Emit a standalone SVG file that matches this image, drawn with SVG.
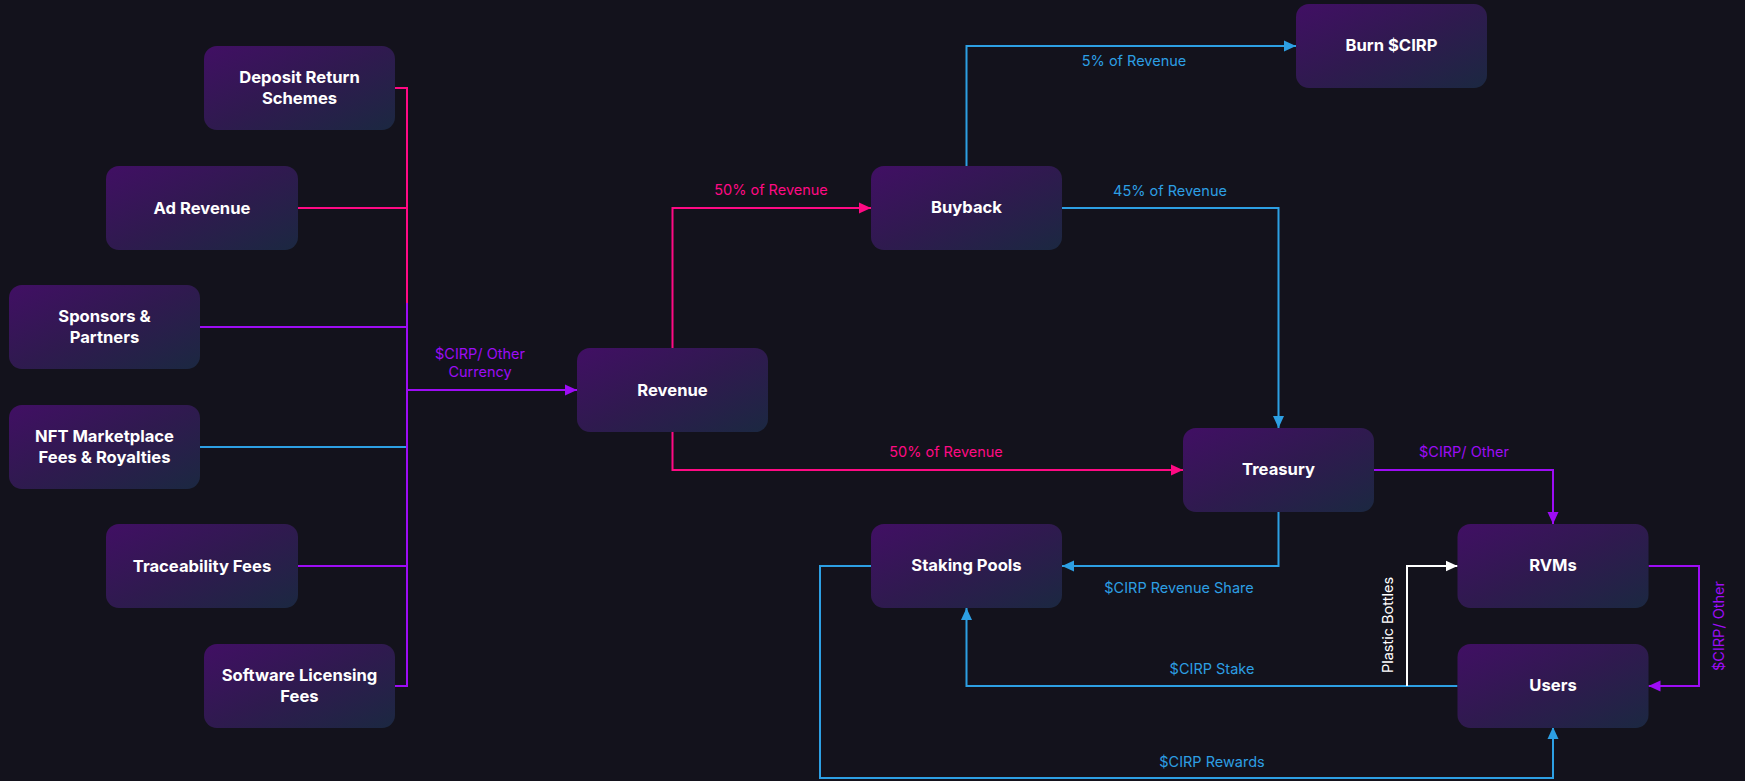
<svg xmlns="http://www.w3.org/2000/svg" width="1745" height="781" viewBox="0 0 1745 781">
<defs>
<linearGradient id="boxg" x1="0" y1="0" x2="1" y2="1">
<stop offset="0" stop-color="#410f64"/>
<stop offset="0.5" stop-color="#2f1a4f"/>
<stop offset="1" stop-color="#1b2841"/>
</linearGradient>
<marker id="ab" markerUnits="userSpaceOnUse" markerWidth="12" markerHeight="12" viewBox="0 0 12 12" refX="12" refY="6" orient="auto"><path d="M0,0.5 L12,6 L0,11.5 Z" fill="#2d9fe3"/></marker>
<marker id="ap" markerUnits="userSpaceOnUse" markerWidth="12" markerHeight="12" viewBox="0 0 12 12" refX="12" refY="6" orient="auto"><path d="M0,0.5 L12,6 L0,11.5 Z" fill="#ff0a84"/></marker>
<marker id="av" markerUnits="userSpaceOnUse" markerWidth="12" markerHeight="12" viewBox="0 0 12 12" refX="12" refY="6" orient="auto"><path d="M0,0.5 L12,6 L0,11.5 Z" fill="#9d0cf5"/></marker>
<marker id="aw" markerUnits="userSpaceOnUse" markerWidth="12" markerHeight="12" viewBox="0 0 12 12" refX="12" refY="6" orient="auto"><path d="M0,0.5 L12,6 L0,11.5 Z" fill="#ffffff"/></marker>
</defs>
<style>
.box{fill:url(#boxg);}
.nt{font-family:Inter,"Liberation Sans",sans-serif;font-weight:700;font-size:16.6px;fill:#ffffff;text-anchor:middle;}
.el{font-family:Inter,"Liberation Sans",sans-serif;font-weight:400;font-size:14.5px;text-anchor:middle;}
.c{fill:none;stroke-width:2;}
.pk{stroke:#ff0a84;}
.pu{stroke:#9d0cf5;}
.bl{stroke:#2d9fe3;}
.wh{stroke:#ffffff;}
.tpk{fill:#ff0a84;}
.tpu{fill:#9d0cf5;}
.tbl{fill:#2d9fe3;}
.twh{fill:#ffffff;}
</style>
<rect width="1745" height="781" fill="#13121c"/>
<g id="connectors">
<path class="c pk" d="M395,88 H407 V303"/>
<path class="c pk" d="M298,208 H407"/>
<path class="c pu" d="M200,327 H407"/>
<path class="c bl" d="M200,447 H407"/>
<path class="c pu" d="M298,566 H407"/>
<path class="c pu" d="M395,686 H407 V303"/>
<path class="c pu" d="M407,390 H577" marker-end="url(#av)"/>
<text class="el tpu" x="480" y="359">$CIRP/ Other</text>
<text class="el tpu" x="480" y="377">Currency</text>
<path class="c pk" d="M672.5,348 V208 H871" marker-end="url(#ap)"/>
<text class="el tpk" x="771" y="195">50% of Revenue</text>
<path class="c pk" d="M672.5,432 V470 H1183" marker-end="url(#ap)"/>
<text class="el tpk" x="946" y="457">50% of Revenue</text>
<path class="c bl" d="M966.5,166 V46 H1296" marker-end="url(#ab)"/>
<text class="el tbl" x="1134" y="66">5% of Revenue</text>
<path class="c bl" d="M1062,208 H1278.5 V428" marker-end="url(#ab)"/>
<text class="el tbl" x="1170" y="196">45% of Revenue</text>
<path class="c pu" d="M1374,470 H1553 V524" marker-end="url(#av)"/>
<text class="el tpu" x="1464" y="457">$CIRP/ Other</text>
<path class="c bl" d="M1278.5,512 V566 H1062" marker-end="url(#ab)"/>
<text class="el tbl" x="1179" y="593">$CIRP Revenue Share</text>
<path class="c pu" d="M1648.5,566 H1699 V686 H1648.5" marker-end="url(#av)"/>
<text class="el tpu" transform="translate(1724,626) rotate(-90)" x="0" y="0">$CIRP/ Other</text>
<path class="c bl" d="M1457.5,686 H966.5 V608" marker-end="url(#ab)"/>
<text class="el tbl" x="1212" y="674">$CIRP Stake</text>
<path class="c wh" d="M1407,686 V566 H1457.5" marker-end="url(#aw)"/>
<text class="el twh" transform="translate(1393,625) rotate(-90)" x="0" y="0">Plastic Bottles</text>
<path class="c bl" d="M871,566 H820 V778 H1553 V727" marker-end="url(#ab)"/>
<text class="el tbl" x="1212" y="767">$CIRP Rewards</text>
</g>
<g id="deposit"><rect class="box" x="204" y="46" width="191" height="84" rx="13"/><text class="nt" x="299.5" y="82.5">Deposit Return</text><text class="nt" x="299.5" y="104">Schemes</text></g>
<g id="ad-revenue"><rect class="box" x="106" y="166" width="192" height="84" rx="13"/><text class="nt" x="202" y="213.5">Ad Revenue</text></g>
<g id="sponsors"><rect class="box" x="9" y="285" width="191" height="84" rx="13"/><text class="nt" x="104.5" y="321.5">Sponsors &amp;</text><text class="nt" x="104.5" y="343">Partners</text></g>
<g id="nft"><rect class="box" x="9" y="405" width="191" height="84" rx="13"/><text class="nt" x="104.5" y="441.5">NFT Marketplace</text><text class="nt" x="104.5" y="463">Fees &amp; Royalties</text></g>
<g id="traceability"><rect class="box" x="106" y="524" width="192" height="84" rx="13"/><text class="nt" x="202" y="571.5">Traceability Fees</text></g>
<g id="software"><rect class="box" x="204" y="644" width="191" height="84" rx="13"/><text class="nt" x="299.5" y="680.5">Software Licensing</text><text class="nt" x="299.5" y="702">Fees</text></g>
<g id="revenue"><rect class="box" x="577" y="348" width="191" height="84" rx="13"/><text class="nt" x="672.5" y="395.5">Revenue</text></g>
<g id="buyback"><rect class="box" x="871" y="166" width="191" height="84" rx="13"/><text class="nt" x="966.5" y="213">Buyback</text></g>
<g id="burn"><rect class="box" x="1296" y="4" width="191" height="84" rx="13"/><text class="nt" x="1391.5" y="51">Burn $CIRP</text></g>
<g id="treasury"><rect class="box" x="1183" y="428" width="191" height="84" rx="13"/><text class="nt" x="1278.5" y="475">Treasury</text></g>
<g id="staking"><rect class="box" x="871" y="524" width="191" height="84" rx="13"/><text class="nt" x="966.5" y="571">Staking Pools</text></g>
<g id="rvms"><rect class="box" x="1457.5" y="524" width="191" height="84" rx="13"/><text class="nt" x="1553" y="571">RVMs</text></g>
<g id="users"><rect class="box" x="1457.5" y="644" width="191" height="84" rx="13"/><text class="nt" x="1553" y="691">Users</text></g>
</svg>
